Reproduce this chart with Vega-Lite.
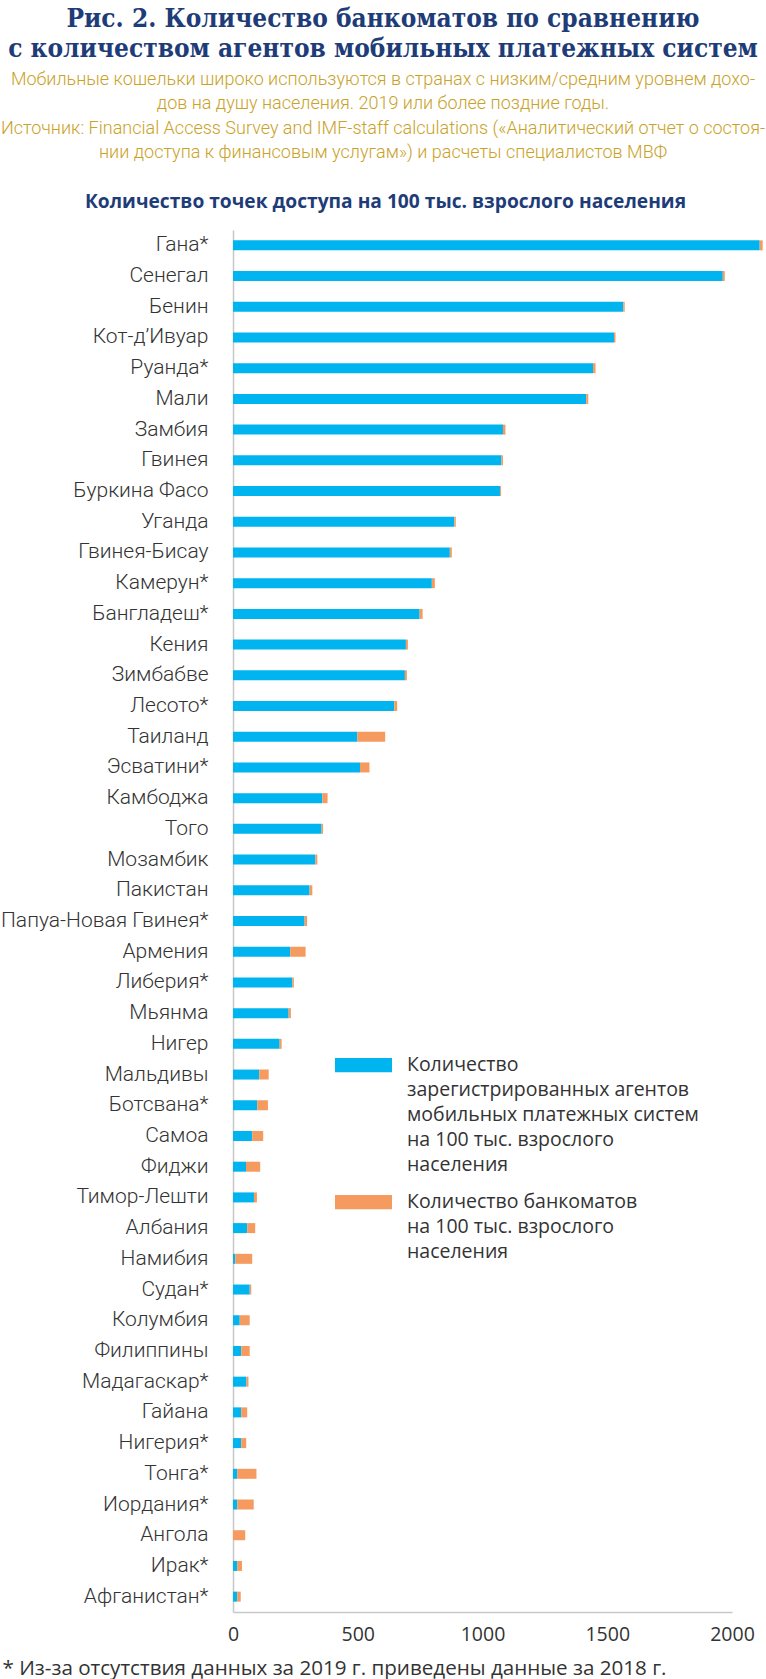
{
  "$schema": "https://vega.github.io/schema/vega-lite/v6.json",
  "width": 499,
  "height": 1382,
  "autosize": {"type": "none"},
  "padding": {"left": 233, "top": 230, "right": 34, "bottom": 67},
  "background": "white",
  "title": {
    "text": ["Рис. 2. Количество банкоматов по сравнению", "с количеством агентов мобильных платежных систем"],
    "subtitle": [
      "Мобильные кошельки широко используются в странах с низким/средним уровнем дохо-",
      "дов на душу населения. 2019 или более поздние годы.",
      "Источник: Financial Access Survey and IMF-staff calculations («Аналитический отчет о состоя-",
      "нии доступа к финансовым услугам») и расчеты специалистов МВФ"
    ],
    "anchor": "start",
    "align": "center",
    "dx": 150,
    "frame": "group",
    "offset": 30,
    "font": "DejaVu Serif Condensed",
    "fontWeight": "bold",
    "fontSize": 26,
    "color": "#1E3C78",
    "lineHeight": 30,
    "subtitleFont": "Roboto",
    "subtitleFontWeight": 300,
    "subtitleFontSize": 18,
    "subtitleColor": "#C9A227",
    "subtitleLineHeight": 24.5,
    "subtitlePadding": 9
  },
  "data": {
    "values": [
      {"country": "Гана*", "agents": 2111, "atm": 12},
      {"country": "Сенегал", "agents": 1963, "atm": 8},
      {"country": "Бенин", "agents": 1564, "atm": 6},
      {"country": "Кот-д’Ивуар", "agents": 1527, "atm": 6},
      {"country": "Руанда*", "agents": 1443, "atm": 10},
      {"country": "Мали", "agents": 1416, "atm": 8},
      {"country": "Замбия", "agents": 1082, "atm": 10},
      {"country": "Гвинея", "agents": 1076, "atm": 6},
      {"country": "Буркина Фасо", "agents": 1070, "atm": 4},
      {"country": "Уганда", "agents": 887, "atm": 6},
      {"country": "Гвинея-Бисау", "agents": 869, "atm": 8},
      {"country": "Камерун*", "agents": 797, "atm": 12},
      {"country": "Бангладеш*", "agents": 748, "atm": 12},
      {"country": "Кения", "agents": 693, "atm": 8},
      {"country": "Зимбабве", "agents": 689, "atm": 8},
      {"country": "Лесото*", "agents": 646, "atm": 12},
      {"country": "Таиланд", "agents": 498, "atm": 112},
      {"country": "Эсватини*", "agents": 509, "atm": 38},
      {"country": "Камбоджа", "agents": 358, "atm": 21},
      {"country": "Того", "agents": 355, "atm": 6},
      {"country": "Мозамбик", "agents": 330, "atm": 8},
      {"country": "Пакистан", "agents": 307, "atm": 11},
      {"country": "Папуа-Новая Гвинея*", "agents": 287, "atm": 10},
      {"country": "Армения", "agents": 229, "atm": 62},
      {"country": "Либерия*", "agents": 238, "atm": 6},
      {"country": "Мьянма", "agents": 223, "atm": 9},
      {"country": "Нигер", "agents": 187, "atm": 8},
      {"country": "Мальдивы", "agents": 105, "atm": 38},
      {"country": "Ботсвана*", "agents": 97, "atm": 43},
      {"country": "Самоа", "agents": 77, "atm": 44},
      {"country": "Фиджи", "agents": 52, "atm": 57},
      {"country": "Тимор-Лешти", "agents": 84, "atm": 12},
      {"country": "Албания", "agents": 57, "atm": 32},
      {"country": "Намибия", "agents": 9, "atm": 68},
      {"country": "Судан*", "agents": 67, "atm": 6},
      {"country": "Колумбия", "agents": 27, "atm": 40},
      {"country": "Филиппины", "agents": 33, "atm": 34},
      {"country": "Мадагаскар*", "agents": 54, "atm": 8},
      {"country": "Гайана", "agents": 33, "atm": 24},
      {"country": "Нигерия*", "agents": 33, "atm": 20},
      {"country": "Тонга*", "agents": 17, "atm": 77},
      {"country": "Иордания*", "agents": 17, "atm": 66},
      {"country": "Ангола", "agents": 0, "atm": 49},
      {"country": "Ирак*", "agents": 17, "atm": 19},
      {"country": "Афганистан*", "agents": 17, "atm": 14}
    ]
  },
  "transform": [{"fold": ["agents", "atm"], "as": ["series", "value"]}],
  "mark": {"type": "bar", "height": 10},
  "encoding": {
    "y": {
      "field": "country",
      "type": "nominal",
      "sort": null,
      "scale": {"paddingInner": 0, "paddingOuter": 0},
      "axis": {
        "title": "Количество точек доступа на 100 тыс. взрослого населения",
        "titleAngle": 0,
        "titleX": 152,
        "titleY": -29,
        "titleAlign": "center",
        "titleBaseline": "middle",
        "titleFont": "Open Sans",
        "titleFontWeight": "bold",
        "titleFontSize": 19.2,
        "titleColor": "#1E3C78",
        "labelFont": "Roboto",
        "labelFontWeight": 300,
        "labelFontSize": 21,
        "labelColor": "#333333",
        "labelPadding": 25,
        "labelLimit": 300,
        "ticks": false,
        "tickSize": 0,
        "domainColor": "#C8C8C8",
        "domainWidth": 1.5
      }
    },
    "x": {
      "field": "value",
      "type": "quantitative",
      "stack": "zero",
      "scale": {"domain": [0, 2000], "nice": false},
      "axis": {
        "values": [0, 500, 1000, 1500, 2000],
        "format": "d",
        "grid": false,
        "ticks": false,
        "tickSize": 0,
        "labelPadding": 13,
        "labelFlush": false,
        "labelFont": "Open Sans",
        "labelFontSize": 19.5,
        "labelColor": "#333333",
        "domainColor": "#C8C8C8",
        "domainWidth": 1.5,
        "title": "* Из-за отсутствия данных за 2019 г. приведены данные за 2018 г.",
        "titleX": -231,
        "titleY": 56,
        "titleAlign": "left",
        "titleBaseline": "middle",
        "titleFont": "Open Sans",
        "titleFontWeight": "normal",
        "titleFontSize": 20.6,
        "titleColor": "#333333"
      }
    },
    "color": {
      "field": "series",
      "type": "nominal",
      "scale": {"domain": ["agents", "atm"], "range": ["#00B4EF", "#F59B5F"]},
      "legend": {
        "orient": "none",
        "legendX": 102,
        "legendY": 828,
        "title": null,
        "padding": 0,
        "symbolType": "M-1,-0.25H1V0.25H-1Z",
        "symbolSize": 3249,
        "symbolStrokeWidth": 0,
        "clipHeight": 14,
        "labelOffset": 15,
        "labelFont": "Open Sans",
        "labelFontSize": 19.5,
        "labelColor": "#333333",
        "labelBaseline": "top",
        "labelLimit": 400,
        "rowPadding": 17,
        "labelExpr": "datum.value == 'agents' ? ['Количество', 'зарегистрированных агентов', 'мобильных платежных систем', 'на 100 тыс. взрослого', 'населения'] : ['Количество банкоматов', 'на 100 тыс. взрослого', 'населения']",
        "encode": {"labels": {"update": {"dy": {"value": -9}, "lineHeight": {"value": 25}}}}
      }
    },
    "order": {"field": "series", "sort": "ascending"}
  },
  "config": {"view": {"stroke": null}}
}
